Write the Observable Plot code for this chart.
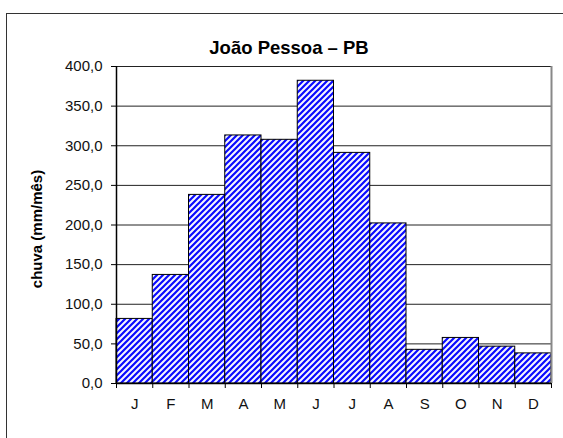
<!DOCTYPE html>
<html><head><meta charset="utf-8">
<script src="https://cdn.jsdelivr.net/npm/d3@7"></script>
<script src="https://cdn.jsdelivr.net/npm/@observablehq/plot@0.6"></script>
<style>
body{margin:0;background:#fff;font-family:"Liberation Sans",Arial,sans-serif}
#wrap{position:relative;width:563px;height:438px;overflow:hidden;background:#fff}
#frame{position:absolute;left:6px;top:13px;width:600px;height:500px;border:1.5px solid #333;box-sizing:border-box}
#wrap svg{position:absolute;left:0;top:0}
</style></head><body>
<div id="wrap"><div id="frame"></div></div>
<script>
const months = ["J","F","M","A","M","J","J","A","S","O","N","D"];
const rain = [81.5,137,238,313,307.5,382,291,202,42.5,57.5,46.5,38];
const yTicks = [0,50,100,150,200,250,300,350,400];
const title = "João Pessoa – PB";
const yLabel = "chuva (mm/mês)";

const data = months.map((m,i)=>({i, m, v: rain[i]}));
const xEdges = d3.range(months.length + 1);
const fmt = v => d3.format(".1f")(v).replace(".", ",");
const font = "'Liberation Sans', Arial, sans-serif";

const chart = Plot.plot({
  width:563, height:438,
  marginLeft:116, marginRight:12, marginTop:66, marginBottom:55,
  style:{fontFamily:font, fontSize:"15px", color:"#000", background:"transparent"},
  x:{type:"linear", domain:[0, months.length], axis:null},
  y:{domain:[0,400], axis:null},
  marks:[
    Plot.ruleY(yTicks.slice(1), {stroke:"#222", strokeWidth:1}),
    Plot.rect(data, {x1:"i", x2:d=>d.i+1, y1:0, y2:"v", fill:"url(#hatch)", stroke:"#000", strokeWidth:1}),
    Plot.ruleX([months.length], {stroke:"#888", strokeWidth:2}),
    Plot.ruleX([0], {stroke:"#000", strokeWidth:1.5}),
    Plot.ruleY([0], {stroke:"#000", strokeWidth:1.5}),
    Plot.axisY({ticks:yTicks, tickFormat:fmt, tickSize:5, tickPadding:9, stroke:"#000", fill:"#111", fontSize:15, label:null}),
    Plot.axisX({ticks:xEdges, tickFormat:()=>"", tickSize:5, stroke:"#000", label:null}),
    Plot.text(data, {x:d=>d.i+0.5, text:"m", frameAnchor:"bottom", dy:25, fontSize:15, fill:"#111"}),
    Plot.text([title], {frameAnchor:"top", dx:-45, dy:-26, fontSize:18.5, fontWeight:"bold", fill:"#000"}),
    Plot.text([yLabel], {frameAnchor:"left", textAnchor:"middle", rotate:-90, dx:-79, dy:4, fontSize:15, fontWeight:"bold", fill:"#000"})
  ]
});

const svg = d3.select(chart);
const defs = svg.insert("defs", ":first-child");
const pat = defs.append("pattern").attr("id","hatch").attr("patternUnits","userSpaceOnUse")
  .attr("width",6).attr("height",6);
pat.append("rect").attr("width",6).attr("height",6).attr("fill","#f6f6ff");
pat.append("path").attr("d","M-1,1 L1,-1 M0,6 L6,0 M5,7 L7,5")
  .attr("stroke","#0a0aff").attr("stroke-width",2.2);
document.getElementById("wrap").appendChild(chart);
</script>
</body></html>
